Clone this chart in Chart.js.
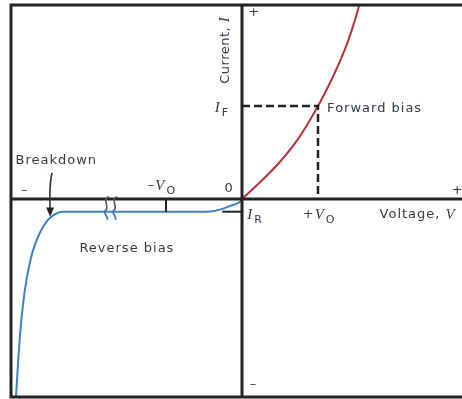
<!DOCTYPE html>
<html><head><meta charset="utf-8">
<script src="https://cdn.jsdelivr.net/npm/chart.js@4"></script>
<style>html,body{margin:0;padding:0;background:#fff;}canvas{display:block;}</style>
</head><body>
<canvas id="c" width="462" height="399"></canvas>
<script>
// Forward-bias branch (voltage in units of V0, current in units of I_F)
const forwardV = [0, 0.25, 0.5, 0.75, 1.0, 1.2, 1.35, 1.47, 1.55, 1.58];
const forwardI = [0, 0.19, 0.40, 0.66, 1.0, 1.32, 1.6, 1.88, 2.11, 2.22];
// Reverse-bias branch incl. breakdown
const reverseV = [-2.975, -2.95, -2.92, -2.88, -2.83, -2.76, -2.67, -2.56, -2.45, -2.37, -1.5, -0.6, -0.42, -0.29, -0.158, -0.026, 0];
const reverseI = [-2.13, -1.80, -1.45, -1.12, -0.84, -0.58, -0.38, -0.23, -0.16, -0.137, -0.137, -0.137, -0.134, -0.115, -0.075, -0.03, 0];
// Reference levels
const V0 = 1.0, IF = 1.0, IR = -0.137;
const xRange = [-3.04, 2.895], yRange = [-2.13, 2.086];
// Text labels [text, v, i, align]
const plainLabels = [
  ["Forward bias", 1.12, 0.97, "left"],
  ["Breakdown", -2.98, 0.41, "left"],
  ["Reverse bias", -2.14, -0.53, "left"],
  ["0", -0.17, 0.11, "center"],
  ["+", 2.84, 0.085, "center"],
  ["+", 0.16, 2.0, "center"],
  ["\u2013", -2.86, 0.085, "center"],
  ["\u2013", 0.15, -2.0, "center"]
];

const toPts = (xs, ys) => xs.map((x, k) => ({x: x, y: ys[k]}));
const SANS = '"DejaVu Sans", Verdana, sans-serif';
const SERIF = '"Liberation Serif", "DejaVu Serif", serif';

const overlay = {
  id: 'overlay',
  afterDatasetsDraw(chart) {
    const {ctx, chartArea: a, scales: {x, y}} = chart;
    const X = v => x.getPixelForValue(v), Y = v => y.getPixelForValue(v);
    ctx.save();
    // frame
    ctx.strokeStyle = '#222'; ctx.lineWidth = 3;
    ctx.beginPath(); ctx.moveTo(a.right + 10, a.top); ctx.lineTo(a.left, a.top); ctx.lineTo(a.left, a.bottom); ctx.lineTo(a.right + 10, a.bottom); ctx.stroke();
    // break marks
    ctx.lineWidth = 1.6;
    [-1.79, -1.68].forEach(v => {
      const cx = X(v), cy = Y(IR) - 5;
      ctx.strokeStyle = '#555';
      ctx.beginPath(); ctx.moveTo(cx + 3, cy - 10); ctx.bezierCurveTo(cx - 5, cy - 8, cx + 5, cy + 2, cx - 1, cy + 4); ctx.stroke();
      ctx.strokeStyle = '#2f73bd';
      ctx.beginPath(); ctx.moveTo(cx - 1, cy + 4); ctx.bezierCurveTo(cx - 3, cy + 7, cx + 3, cy + 10, cx + 1, cy + 13); ctx.stroke();
    });
    // breakdown arrow
    ctx.strokeStyle = '#333'; ctx.fillStyle = '#222'; ctx.lineWidth = 1.6;
    const ax1 = X(-2.50), ay1 = Y(0.28), ax2 = X(-2.525), ay2 = Y(-0.19);
    ctx.beginPath(); ctx.moveTo(ax1, ay1); ctx.quadraticCurveTo(ax1 - 3, ay1 + 12, ax2, ay2 - 6); ctx.stroke();
    ctx.beginPath(); ctx.moveTo(ax2, ay2); ctx.lineTo(ax2 - 4, ay2 - 9); ctx.lineTo(ax2 + 4, ay2 - 9); ctx.closePath(); ctx.fill();
    // text
    ctx.fillStyle = '#343a44'; ctx.textBaseline = 'middle';
    ctx.font = '13px ' + SANS;
    ctx.letterSpacing = '1px';
    plainLabels.forEach(([t, v, i, al]) => { ctx.textAlign = al; ctx.fillText(t, X(v), Y(i)); });
    const setF = style => {
      if (style === 'it') ctx.font = 'italic 15px ' + SERIF;
      else if (style === 'sub') ctx.font = '11px ' + SANS;
      else ctx.font = '13px ' + SANS;
    };
    const seg = (parts, px, py) => {
      let cx = px; ctx.textAlign = 'left';
      parts.forEach(([t, style]) => {
        setF(style);
        ctx.fillText(t, cx, py + (style === 'sub' ? 5 : 0));
        cx += ctx.measureText(t).width + (style === 'it' ? 1 : 0);
      });
    };
    seg([["I", 'it'], ["F", 'sub']], X(-0.36), Y(0.98));
    seg([["I", 'it'], ["R", 'sub']], X(0.07), Y(-0.17));
    seg([["\u2013", ''], ["V", 'it'], ["O", 'sub']], X(-1.24), Y(0.14));
    seg([["+", ''], ["V", 'it'], ["O", 'sub']], X(0.80), Y(-0.17));
    seg([["Voltage, ", ''], ["V", 'it']], X(1.81), Y(-0.17));
    // rotated axis title
    ctx.save();
    ctx.translate(X(-0.22), Y(1.6)); ctx.rotate(-Math.PI / 2);
    ctx.letterSpacing = '0.5px';
    ctx.font = '13px ' + SANS;
    const w1 = ctx.measureText("Current, ").width;
    ctx.font = 'italic 15px ' + SERIF;
    const w2 = ctx.measureText("I").width;
    const sx = -(w1 + w2) / 2;
    ctx.textAlign = 'left';
    ctx.font = '13px ' + SANS; ctx.fillText("Current, ", sx, 0);
    ctx.font = 'italic 15px ' + SERIF; ctx.fillText("I", sx + w1, 0);
    ctx.restore();
    ctx.restore();
  }
};

const black = '#222';
new Chart(document.getElementById('c'), {
  type: 'scatter',
  data: {
    datasets: [
      {data: toPts([0, 0], yRange), borderColor: black, borderWidth: 3, showLine: true, pointRadius: 0},
      {data: toPts([xRange[0], xRange[1] + 0.2], [0, 0]), borderColor: black, borderWidth: 3, showLine: true, pointRadius: 0},
      {data: toPts([0, V0, V0], [IF, IF, 0]), borderColor: black, borderWidth: 2.5, borderDash: [8, 4], showLine: true, pointRadius: 0},
      {data: toPts([-0.26, 0], [IR, IR]), borderColor: black, borderWidth: 2, showLine: true, pointRadius: 0},
      {data: toPts([-V0, -V0], [0, IR]), borderColor: black, borderWidth: 2, showLine: true, pointRadius: 0},
      {data: toPts(forwardV, forwardI), borderColor: '#b8323a', borderWidth: 2, showLine: true, pointRadius: 0, tension: 0.35},
      {data: toPts(reverseV, reverseI), borderColor: '#3f7fc6', borderWidth: 2, showLine: true, pointRadius: 0, cubicInterpolationMode: 'monotone'}
    ]
  },
  options: {
    responsive: false, animation: false,
    layout: {padding: {left: 11, top: 5, right: 0, bottom: 2}},
    plugins: {legend: {display: false}, tooltip: {enabled: false}},
    scales: {
      x: {type: 'linear', min: xRange[0], max: xRange[1], display: false},
      y: {type: 'linear', min: yRange[0], max: yRange[1], display: false}
    }
  },
  plugins: [overlay]
});
</script>
</body></html>
